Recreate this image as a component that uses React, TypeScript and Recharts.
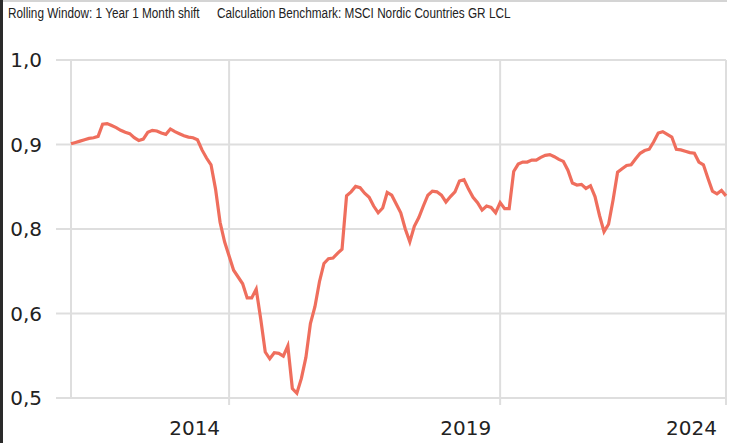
import React from "react";
import { LineChart, Line, XAxis, YAxis, CartesianGrid } from "recharts";

// rolling beta vs benchmark, one value per month
const beta = [
  0.876, 0.878, 0.88, 0.882, 0.884, 0.885, 0.887, 0.905, 0.906, 0.903,
  0.9, 0.896, 0.893, 0.891, 0.885, 0.881, 0.883, 0.893, 0.896, 0.895,
  0.892, 0.89, 0.898, 0.894, 0.891, 0.888, 0.886, 0.885, 0.882, 0.867,
  0.855, 0.845, 0.809, 0.76, 0.731, 0.71, 0.689, 0.679, 0.669, 0.648,
  0.648, 0.661, 0.617, 0.568, 0.558, 0.567, 0.566, 0.562, 0.577, 0.514,
  0.507, 0.529, 0.56, 0.61, 0.635, 0.672, 0.699, 0.706, 0.707, 0.714,
  0.72, 0.799, 0.805, 0.813, 0.811, 0.803, 0.797, 0.784, 0.774, 0.781,
  0.804, 0.8, 0.787, 0.774, 0.75, 0.731, 0.754, 0.767, 0.784, 0.8,
  0.806, 0.805, 0.8, 0.79, 0.798, 0.805, 0.821, 0.823, 0.809, 0.797,
  0.789, 0.778, 0.784, 0.782, 0.774, 0.789, 0.78, 0.78, 0.835, 0.846,
  0.849, 0.849, 0.852, 0.852, 0.856, 0.859, 0.86, 0.857, 0.853, 0.85,
  0.837, 0.818, 0.815, 0.816, 0.81, 0.814, 0.798, 0.77, 0.746, 0.757,
  0.793, 0.834, 0.839, 0.844, 0.845, 0.854, 0.862, 0.866, 0.868, 0.879,
  0.892, 0.894, 0.89, 0.886, 0.868, 0.867, 0.865, 0.863, 0.862, 0.849,
  0.845, 0.825, 0.806, 0.802, 0.807, 0.799,
];

const gridMonths = [0, 35, 95, 145];
const yearTicks = [35, 95, 145];
const yearLabels = ["2014", "2019", "2024"];
const yTicks = [0.5, 0.625, 0.75, 0.875, 1.0];

const data = beta.map((v, i) => ({ m: i, v }));

const axisFont = "'DejaVu Sans', Verdana, sans-serif";
const gridColor = "#dedede";

const headerStyle: React.CSSProperties = {
  position: "absolute",
  top: 5,
  fontFamily: "'Liberation Sans', Arial, sans-serif",
  fontSize: 14,
  lineHeight: "16px",
  color: "#222",
  whiteSpace: "nowrap",
  transform: "scaleX(0.84)",
  transformOrigin: "0 0",
};

function YearTick(props: any) {
  const { x, y, payload } = props;
  const idx = yearTicks.indexOf(payload.value);
  if (idx < 0) return <g />;
  return (
    <g>
      <line x1={x} x2={x} y1={y} y2={y + 7} stroke={gridColor} strokeWidth={2} />
      <text
        x={x - 9}
        y={y + 37}
        textAnchor="end"
        fontSize={20}
        fontFamily={axisFont}
        fill="#222"
      >
        {yearLabels[idx]}
      </text>
    </g>
  );
}

export default function App() {
  return (
    <div
      style={{
        position: "absolute",
        left: 0,
        top: 0,
        width: 734,
        height: 443,
        background: "#fff",
        overflow: "hidden",
      }}
    >
      <div style={{ position: "absolute", left: 0, top: 0, width: 3, height: 443, background: "#2a2a2a" }} />
      <div style={{ position: "absolute", left: 3, top: 0, width: 724, height: 2, background: "#d4d4d4" }} />
      <div style={{ ...headerStyle, left: 8 }}>Rolling Window: 1 Year 1 Month shift</div>
      <div style={{ ...headerStyle, left: 217 }}>Calculation Benchmark: MSCI Nordic Countries GR LCL</div>
      <div style={{ position: "absolute", left: 0, top: 0 }}>
        <LineChart width={734} height={443} data={data} margin={{ top: 60, right: 8, bottom: 0, left: 0 }}>
          <CartesianGrid stroke={gridColor} strokeWidth={2} />
          <XAxis
            type="number"
            dataKey="m"
            domain={[0, 145]}
            ticks={gridMonths}
            height={45}
            axisLine={false}
            tickLine={false}
            tickSize={0}
            tickMargin={0}
            tick={<YearTick />}
            interval={0}
          />
          <YAxis
            domain={[0.5, 1]}
            ticks={yTicks}
            width={71}
            axisLine={false}
            tickSize={15}
            tickMargin={14}
            tickLine={{ stroke: gridColor, strokeWidth: 2 }}
            tick={{ fontSize: 20, fontFamily: axisFont, fill: "#222" }}
            tickFormatter={(v: number) => v.toFixed(1).replace(".", ",")}
            interval={0}
          />
          <Line
            type="linear"
            dataKey="v"
            stroke="#ef6e5d"
            strokeWidth={3.2}
            dot={false}
            isAnimationActive={false}
          />
        </LineChart>
      </div>
    </div>
  );
}
